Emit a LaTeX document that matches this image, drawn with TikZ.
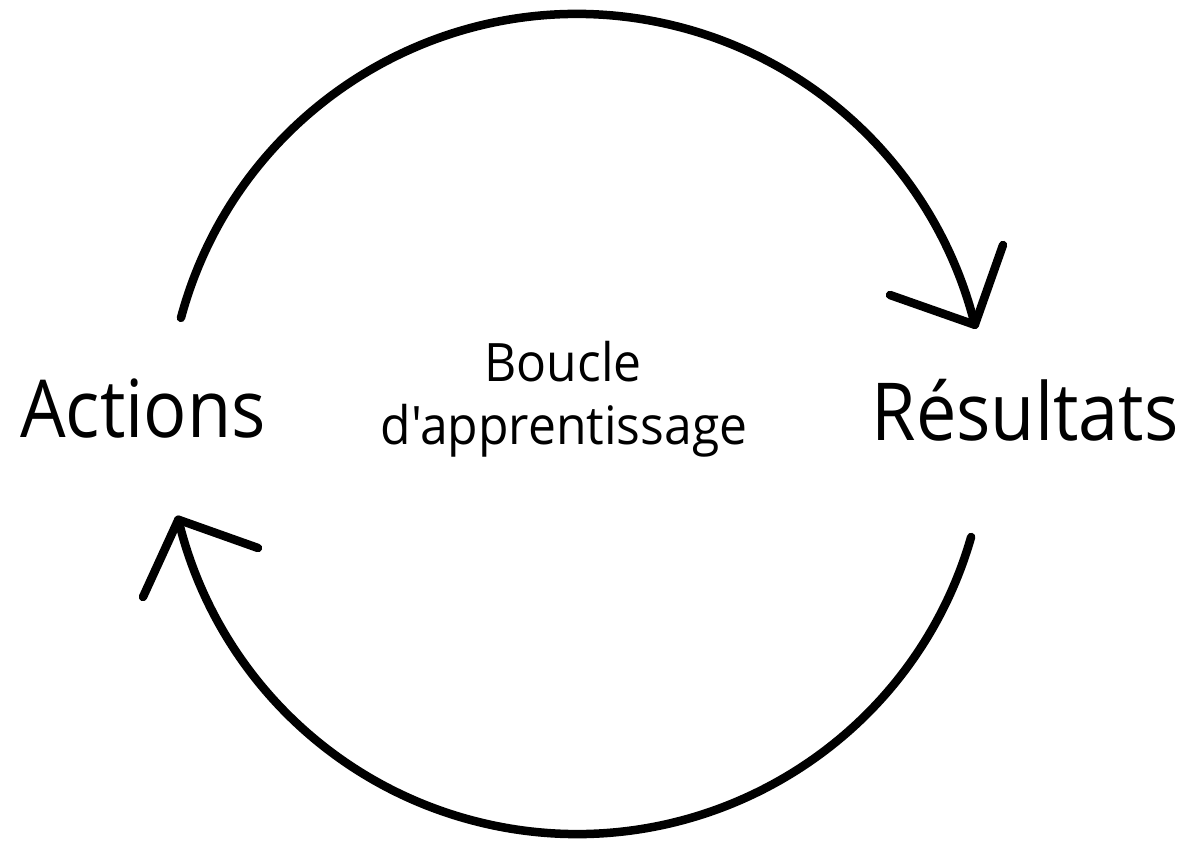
\documentclass[tikz,border=0pt]{standalone}
\usepackage{fontspec}
\newfontfamily\lblfont[FakeStretch=0.9]{Open Sans}
\newfontfamily\smlfont[FakeStretch=0.94]{Open Sans}
\begin{document}
\begin{tikzpicture}[x=1pt,y=-1pt,
  loop/.style={line width=8.5pt, line cap=round, line join=round},
  big/.style={font=\lblfont\fontsize{80}{90}\selectfont, inner sep=0pt, anchor=base},
  small/.style={font=\smlfont\fontsize{53}{60}\selectfont, inner sep=0pt, anchor=base}]
\useasboundingbox (0,0) rectangle (1187,842);
\coordinate (c) at (577,424);
% top arc
\draw[loop] ([shift={(165:410pt)}]c) arc[start angle=165, end angle=14, radius=410pt] coordinate (t1);
\coordinate (w1a) at (890,295);
\coordinate (w1b) at (1003,245);
\draw[loop] (w1a) -- (t1) -- (w1b);
% bottom arc
\draw[loop] ([shift={(-16:410pt)}]c) arc[start angle=-16, end angle=-166.5, radius=410pt] coordinate (t2);
\coordinate (w2a) at (258,548);
\coordinate (w2b) at (143,597);
\draw[loop] (w2a) -- (t2) -- (w2b);
% labels
\node[big] (act) at (143,438) {Actions};
\node[big] (res) at (1025,440) {Résultats};
\node[small] (b1) at (563,382) {Boucle};
\node[small] (b2) at (564,445) {d'apprentissage};
\end{tikzpicture}
\end{document}
